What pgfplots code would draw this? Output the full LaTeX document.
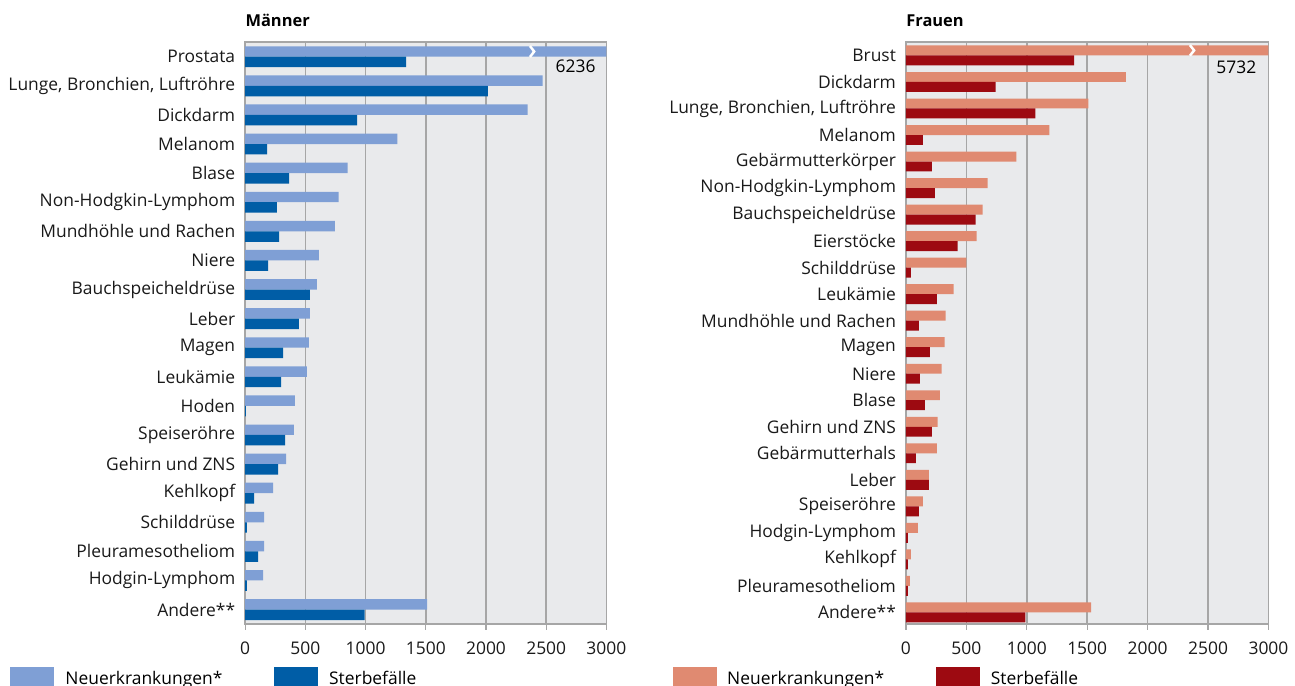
\documentclass[border=0pt]{standalone}
\usepackage{pgfplots}
\pgfplotsset{compat=1.18}
\usepackage{fontspec}
\setmainfont{Open Sans}
\definecolor{lblue}{RGB}{127,159,213}
\definecolor{dblue}{RGB}{0,93,166}
\definecolor{lred}{RGB}{224,138,113}
\definecolor{dred}{RGB}{157,10,17}
\definecolor{bg}{RGB}{233,234,236}
\definecolor{gridc}{RGB}{166,166,166}
\newcommand{\lblfont}{\fontsize{8.75}{10}\selectfont}
\pgfplotsset{
  panel/.style={
    xbar, scale only axis, anchor=south west,
    xmin=0, xmax=3000, y dir=reverse,
    axis background/.style={fill=bg},
    xtick={0,500,1000,1500,2000,2500,3000}, xtick pos=bottom, tick align=outside,
    major tick length=3pt,
    xmajorgrids, grid style={gridc, line width=0.75pt},
    axis line style={gridc, line width=0.75pt},
    xtick style={gridc, line width=0.6pt},
    ytick style={draw=none},
    /pgf/number format/assume math mode=true,
    /pgf/number format/set thousands separator={},
    tick label style={font=\lblfont, text=black!90},
    yticklabel style={xshift=1.5pt},
    xticklabel style={yshift=-2.5pt},
  }
}
\begin{document}
\begin{tikzpicture}
\draw[white] (0,0) rectangle (647.5pt,344pt);
\begin{axis}[panel, at={(123pt,30.75pt)}, width=181.5pt, height=292.25pt,
  ymin=-0.5, ymax=19.49, bar width=5.25pt,
  ytick={0,...,19},
  yticklabels={Prostata,{Lunge, Bronchien, Luftröhre},Dickdarm,Melanom,Blase,Non-Hodgkin-Lymphom,Mundhöhle und Rachen,Niere,Bauchspeicheldrüse,Leber,Magen,Leukämie,Hoden,Speiseröhre,Gehirn und ZNS,Kehlkopf,Schilddrüse,Pleuramesotheliom,Hodgin-Lymphom,Andere**}]
\addplot[fill=lblue, draw=none, bar shift=2.625pt] coordinates {
(6236,0) (2470,1) (2345,2) (1264,3) (851,4) (777,5) (744,6) (612,7) (595,8) (537,9)
(529,10) (512,11) (413,12) (405,13) (339,14) (231,15) (157,16) (157,17) (149,18) (1512,19)};
\addplot[fill=dblue, draw=none, bar shift=-2.625pt] coordinates {
(1337,0) (2015,1) (930,2) (182,3) (364,4) (264,5) (281,6) (190,7) (537,8) (446,9)
(314,10) (298,11) (6,12) (331,13) (273,14) (74,15) (14,16) (107,17) (14,18) (992,19)};
\draw[white, line width=1.25pt] (axis cs:2365,-0.37) -- (axis cs:2400,-0.18) -- (axis cs:2365,0.01);
\node[font=\lblfont] at (axis cs:2744,0.34) {6236};
\end{axis}
\begin{axis}[panel, at={(455pt,30.75pt)}, width=182.15pt, height=292.25pt,
  ymin=-0.5, ymax=21.43, bar width=5pt,
  ytick={0,...,21},
  yticklabels={Brust,Dickdarm,{Lunge, Bronchien, Luftröhre},Melanom,Gebärmutterkörper,Non-Hodgkin-Lymphom,Bauchspeicheldrüse,Eierstöcke,Schilddrüse,Leukämie,Mundhöhle und Rachen,Magen,Niere,Blase,Gehirn und ZNS,Gebärmutterhals,Leber,Speiseröhre,Hodgin-Lymphom,Kehlkopf,Pleuramesotheliom,Andere**}]
\addplot[fill=lred, draw=none, bar shift=2.5pt] coordinates {
(5732,0) (1821,1) (1509,2) (1186,3) (914,4) (675,5) (634,6) (585,7) (500,8) (395,9) (329,10)
(321,11) (296,12) (280,13) (263,14) (255,15) (189,16) (140,17) (99,18) (41,19) (33,20) (1532,21)};
\addplot[fill=dred, draw=none, bar shift=-2.5pt] coordinates {
(1392,0) (743,1) (1072,2) (140,3) (214,4) (239,5) (576,6) (428,7) (41,8) (255,9) (107,10)
(198,11) (115,12) (156,13) (214,14) (82,15) (189,16) (107,17) (16,18) (16,19) (16,20) (988,21)};
\draw[white, line width=1.25pt] (axis cs:2350,-0.39) -- (axis cs:2385,-0.19) -- (axis cs:2350,0.01);
\node[font=\lblfont] at (axis cs:2734,0.44) {5732};
\end{axis}
\node[anchor=base west, inner sep=0pt, font=\bfseries\fontsize{8.25}{10}\selectfont] at (123pt,330.65pt) {Männer};
\node[anchor=base west, inner sep=0pt, font=\bfseries\fontsize{8.25}{10}\selectfont] at (455pt,330.65pt) {Frauen};
\begin{scope}
\clip (0,0) rectangle (647.5pt,344pt);
\fill[lblue] (5pt,-5pt) rectangle (27pt,9pt);
\node[anchor=base west, inner sep=0pt, font=\lblfont] at (32.5pt,0.5pt) {Neuerkrankungen*};
\fill[dblue] (137.5pt,-5pt) rectangle (159.5pt,9pt);
\node[anchor=base west, inner sep=0pt, font=\lblfont] at (165pt,0.5pt) {Sterbefälle};
\fill[lred] (338pt,-5pt) rectangle (360pt,9pt);
\node[anchor=base west, inner sep=0pt, font=\lblfont] at (365pt,0.5pt) {Neuerkrankungen*};
\fill[dred] (470pt,-5pt) rectangle (492pt,9pt);
\node[anchor=base west, inner sep=0pt, font=\lblfont] at (497.5pt,0.5pt) {Sterbefälle};
\end{scope}
\end{tikzpicture}
\end{document}
